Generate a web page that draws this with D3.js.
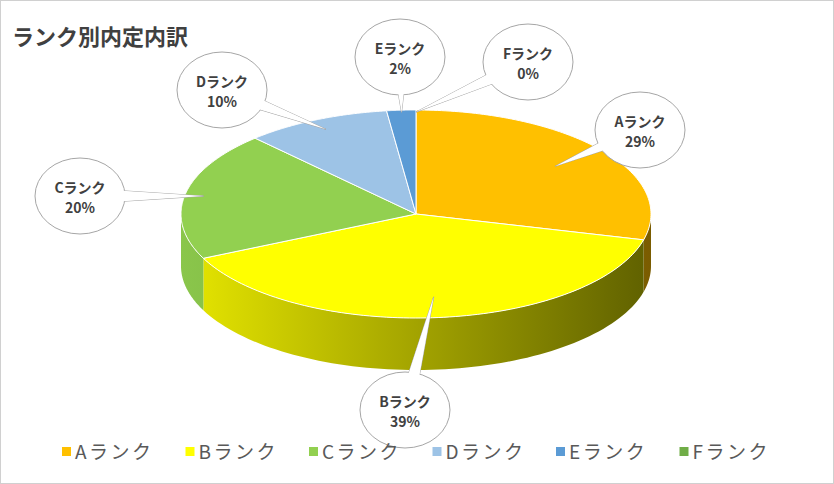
<!DOCTYPE html><html><head><meta charset="utf-8"><script src="https://cdn.jsdelivr.net/npm/d3@7"></script>
<style>body{margin:0;background:#fff}</style></head><body><svg id="c" width="834" height="484"></svg>
<script>
const categories=["Aランク","Bランク","Cランク","Dランク","Eランク","Fランク"];
const legendLabels=["Aランク","Bランク","Cランク","Dランク","Eランク","Fランク"];
const values=[29,39,20,10,2,0];
const colors=["#FFC000","#FFFF00","#92D050","#9DC3E6","#5B9BD5","#70AD47"];
const sideDark=["#7a5c00","#5f6000","#5f8a2e","#6d8aa6","#3f6f9a","#4f7a32"];
const bubbles=[[640,130],[405,410],[80,196],[222,90],[400,57],[528,62]];
const svg=d3.select("#c");
svg.append("rect").attr("x",0.5).attr("y",0.5).attr("width",833).attr("height",483).attr("fill","#fff").attr("stroke","#d0d0d0");
svg.append("text").attr("x",12).attr("y",45).attr("font-family","Noto Sans CJK JP").attr("font-weight","bold").attr("font-size",22).attr("fill","#404040").text("ランク別内定内訳");
const cx=416,cy=214,rx=235,ry=104,depth=52;
const arcs=d3.pie().sort(null).startAngle(0).endAngle(2*Math.PI)(values);
const P=(a,r=1,dy=0)=>[cx+rx*r*Math.sin(a),cy-ry*r*Math.cos(a)+dy];
const defs=svg.append("defs");
arcs.forEach((d,i)=>{
  const a0=Math.max(d.startAngle,Math.PI/2),a1=Math.min(d.endAngle,3*Math.PI/2);
  if(a1<=a0)return;
  const gid="g"+i;
  const gr=defs.append("linearGradient").attr("id",gid).attr("gradientUnits","userSpaceOnUse").attr("x1",cx-rx).attr("x2",cx+rx).attr("y1",0).attr("y2",0);
  gr.append("stop").attr("offset",0).attr("stop-color",d3.interpolateRgb(colors[i],sideDark[i])(0.15));
  gr.append("stop").attr("offset",1).attr("stop-color",sideDark[i]);
  const pts=[];const n=80;
  for(let k=0;k<=n;k++)pts.push(P(a0+(a1-a0)*k/n));
  for(let k=n;k>=0;k--)pts.push(P(a0+(a1-a0)*k/n,1,depth));
  svg.append("path").attr("d",d3.line()(pts)+"Z").attr("fill",`url(#${gid})`);
});
arcs.forEach((d,i)=>{
  if(d.endAngle-d.startAngle<=0)return;
  const pts=[[cx,cy]];const n=100;
  for(let k=0;k<=n;k++)pts.push(P(d.startAngle+(d.endAngle-d.startAngle)*k/n));
  svg.append("path").attr("d",d3.line()(pts)+"Z").attr("fill",colors[i]).attr("stroke","#fff").attr("stroke-width",1);
});
const anchorsR=[0.75,0.8,0.92,0.9,0.98,0.98];
arcs.forEach((d,i)=>{
  const m=(d.startAngle+d.endAngle)/2;
  const [ax,ay]=P(m,anchorsR[i]);
  const [bx,by]=bubbles[i];
  const ang=Math.atan2(ay-by,ax-bx);
  const w=8,q=[bx+w*Math.cos(ang+Math.PI/2),by+w*Math.sin(ang+Math.PI/2)],r=[bx-w*Math.cos(ang+Math.PI/2),by-w*Math.sin(ang+Math.PI/2)];
  svg.append("path").attr("d",d3.line()([q,[ax,ay],r])+"Z").attr("fill","#fff").attr("stroke","#a6a6a6");
  svg.append("ellipse").attr("cx",bx).attr("cy",by).attr("rx",45).attr("ry",38).attr("fill","#fff").attr("stroke","#a6a6a6");
  svg.append("path").attr("d",d3.line()([q,[ax,ay],r])+"Z").attr("fill","#fff").attr("stroke","none");
  const t=svg.append("text").attr("text-anchor","middle").attr("font-family","Noto Sans CJK JP").attr("font-weight","bold").attr("font-size",14).attr("fill","#404040");
  t.append("tspan").attr("x",bx).attr("y",by-3).text(categories[i]);
  t.append("tspan").attr("x",bx).attr("y",by+17).text(d3.format(".0%")(values[i]/100));
});
const lg=svg.append("g");
categories.forEach((c,i)=>{
  const x=62+i*123.5;
  lg.append("rect").attr("x",x).attr("y",447).attr("width",9).attr("height",9).attr("fill",colors[i]);
  lg.append("text").attr("x",x+13).attr("y",459).attr("font-family","Noto Sans CJK JP").attr("font-size",19).attr("letter-spacing",2.5).attr("fill","#595959").text(legendLabels[i]);
});
</script></body></html>
